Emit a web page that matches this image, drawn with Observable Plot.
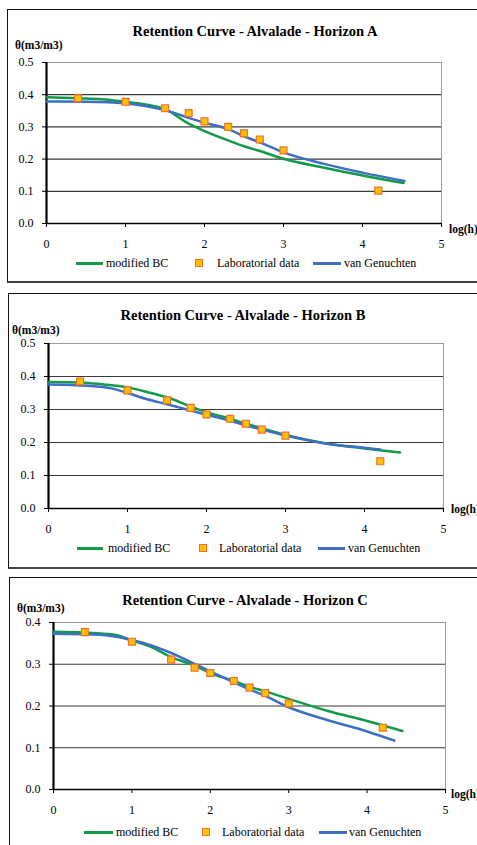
<!DOCTYPE html>
<html>
<head>
<meta charset="utf-8">
<script src="https://cdn.jsdelivr.net/npm/d3@7"></script>
<script src="https://cdn.jsdelivr.net/npm/@observablehq/plot@0.6"></script>
<style>
  html, body { margin: 0; padding: 0; background: #fff; }
  body { width: 477px; height: 845px; position: relative; overflow: hidden; font-family: "Liberation Serif", "Times New Roman", serif; color: #000; }
  svg, svg text { font-family: "Liberation Serif", "Times New Roman", serif !important; }
  .panel { position: absolute; border: 1px solid #111; border-bottom: 2px solid #444; background: #fff; box-sizing: border-box; }
  .abs { position: absolute; white-space: nowrap; }
  .title { font-weight: bold; font-size: 14.5px; text-align: center; width: 400px; line-height: 1; }
  .ylab { font-weight: bold; font-size: 11.5px; line-height: 1; }
  .xlab { font-weight: bold; font-size: 11.5px; line-height: 1; }
  .leg { font-size: 12px; line-height: 1; }
  .sw-line { position: absolute; height: 3px; }
  .sw-sq { position: absolute; width: 6px; height: 6px; background: #ffc000; border: 1px solid #f07030; }
</style>
</head>
<body>
<script>
// ---------- data ----------
const labX = [0.4, 1, 1.5, 1.8, 2, 2.3, 2.5, 2.7, 3, 4.2];
const labA = [0.389, 0.378, 0.358, 0.343, 0.317, 0.300, 0.280, 0.261, 0.227, 0.102];
const labB = [0.385, 0.358, 0.328, 0.305, 0.285, 0.272, 0.257, 0.239, 0.221, 0.143];
const labC = [0.377, 0.354, 0.311, 0.292, 0.279, 0.260, 0.244, 0.231, 0.206, 0.148];

const bcAx = [0, 0.4, 0.7, 1, 1.25, 1.5, 1.8, 2, 2.3, 2.5, 2.7, 3, 3.5, 4, 4.52];
const bcAy = [0.392, 0.389, 0.386, 0.378, 0.370, 0.355, 0.310, 0.287, 0.258, 0.240, 0.225, 0.201, 0.174, 0.149, 0.126];
const vgAx = [0, 0.5, 1, 1.25, 1.5, 1.8, 2, 2.3, 2.5, 2.7, 3, 3.5, 4, 4.53];
const vgAy = [0.379, 0.378, 0.373, 0.365, 0.352, 0.328, 0.313, 0.293, 0.271, 0.252, 0.221, 0.186, 0.158, 0.132];

const bcBx = [0, 0.4, 0.7, 1, 1.25, 1.5, 1.8, 2, 2.3, 2.5, 2.7, 3, 3.5, 4, 4.45];
const bcBy = [0.383, 0.382, 0.376, 0.367, 0.353, 0.337, 0.309, 0.292, 0.272, 0.257, 0.243, 0.223, 0.198, 0.182, 0.170];
const vgBx = [0, 0.5, 0.8, 1, 1.25, 1.5, 1.8, 2, 2.3, 2.5, 2.7, 3, 3.5, 4, 4.2];
const vgBy = [0.376, 0.372, 0.364, 0.350, 0.331, 0.316, 0.297, 0.284, 0.266, 0.252, 0.239, 0.221, 0.197, 0.184, 0.179];

const bcCx = [0, 0.5, 0.8, 1, 1.25, 1.5, 1.8, 2, 2.3, 2.5, 2.7, 3, 3.5, 4, 4.45];
const bcCy = [0.378, 0.375, 0.370, 0.357, 0.341, 0.317, 0.297, 0.279, 0.260, 0.246, 0.235, 0.217, 0.188, 0.164, 0.140];
const vgCx = [0, 0.5, 0.8, 1, 1.25, 1.5, 1.8, 2, 2.3, 2.5, 2.7, 3, 3.5, 4, 4.35];
const vgCy = [0.373, 0.371, 0.366, 0.358, 0.345, 0.327, 0.301, 0.283, 0.257, 0.240, 0.224, 0.197, 0.166, 0.139, 0.117];

const xTicks = [0, 1, 2, 3, 4, 5];
const yTicksAB = [0, 0.1, 0.2, 0.3, 0.4, 0.5];
const yTicksC = [0, 0.1, 0.2, 0.3, 0.4];
const titles = ["Retention Curve - Alvalade - Horizon A", "Retention Curve - Alvalade - Horizon B", "Retention Curve - Alvalade - Horizon C"];
const seriesNames = ["modified BC", "Laboratorial data", "van Genuchten"];
const yLabel = "θ(m3/m3)";
const xLabel = "log(h)";

const GREEN = "#129a48";
const BLUE = "#3e6fc2";

const zip = (xs, ys) => xs.map((x, i) => ({x, y: ys[i]}));

function el(cls, css, text) {
  const d = document.createElement("div");
  d.className = cls;
  Object.assign(d.style, css);
  if (text != null) d.textContent = text;
  document.body.appendChild(d);
  return d;
}

function panel(cfg) {
  const {box, plotL, plotR, plotT, plotB, yMax, yTicks, lab, bc, vg, title, titleY, titleX, ylabX, ylabY, xlabX, xlabY, legY, leg} = cfg;
  el("panel", {left: box[0] + "px", top: box[1] + "px", width: box[2] + "px", height: box[3] + "px"});
  el("abs title", {left: (titleX - 200) + "px", top: (titleY - 7) + "px"}, title);
  el("abs ylab", {left: ylabX + "px", top: (ylabY - 6) + "px"}, yLabel);
  el("abs xlab", {left: xlabX + "px", top: (xlabY - 6) + "px"}, xLabel);

  const mT = 10, mB = 40;
  const svgTop = plotT - mT;
  const H = mT + (plotB - plotT) + mB;
  const chart = Plot.plot({
    width: 477, height: H,
    marginLeft: plotL, marginRight: 477 - plotR, marginTop: mT, marginBottom: mB,
    style: {fontFamily: "Liberation Serif", fontSize: "12px", background: "transparent", color: "#000", overflow: "visible"},
    x: {domain: [0, 5], label: null},
    y: {domain: [0, yMax], label: null},
    marks: [
      Plot.ruleY(yTicks.filter(t => t > 0 && t < yMax), {stroke: "#3a3a3a", strokeWidth: 1.2}),
      Plot.frame({stroke: "#9a9a9a"}),
      Plot.axisX({ticks: xTicks, tickFormat: d => String(d), tickSize: 4, tickPadding: 12, fontSize: 12}),
      Plot.axisY({ticks: yTicks, tickFormat: d3.format(".1f"), tickSize: 4, tickPadding: 9, fontSize: 12}),
      Plot.ruleY([0], {stroke: "#000", strokeWidth: 1.6}),
      Plot.ruleX([0], {stroke: "#000", strokeWidth: 2.2}),
      Plot.line(bc, {x: "x", y: "y", stroke: GREEN, strokeWidth: 2.5, curve: "monotone-x"}),
      Plot.line(vg, {x: "x", y: "y", stroke: BLUE, strokeWidth: 2.5, curve: "monotone-x"}),
      Plot.dot(lab, {x: "x", y: "y", symbol: "square", r: 3.9, fill: "#ffc000", stroke: "#f07030", strokeWidth: 1.2})
    ]
  });
  const wrap = el("abs", {left: "0px", top: svgTop + "px"});
  wrap.appendChild(chart);

  // legend
  const [g0, g1, t0, sq, t1, b0, b1, t2] = leg;
  el("sw-line", {left: g0 + "px", width: (g1 - g0) + "px", top: (legY - 1.5) + "px", background: GREEN});
  el("abs leg", {left: t0 + "px", top: (legY - 6.5) + "px"}, seriesNames[0]);
  el("sw-sq", {left: (sq - 4) + "px", top: (legY - 4) + "px"});
  el("abs leg", {left: t1 + "px", top: (legY - 6.5) + "px"}, seriesNames[1]);
  el("sw-line", {left: b0 + "px", width: (b1 - b0) + "px", top: (legY - 1.5) + "px", background: BLUE});
  el("abs leg", {left: t2 + "px", top: (legY - 6.5) + "px"}, seriesNames[2]);
}

panel({
  box: [7, 9, 480, 274], plotL: 46, plotR: 441, plotT: 62, plotB: 223,
  yMax: 0.5, yTicks: yTicksAB,
  lab: zip(labX, labA), bc: zip(bcAx, bcAy), vg: zip(vgAx, vgAy),
  title: titles[0], titleX: 255, titleY: 31, ylabX: 15, ylabY: 46, xlabX: 449, xlabY: 230,
  legY: 263, leg: [76, 103, 106, 199, 217, 313, 341, 344]
});
panel({
  box: [8, 293, 480, 276], plotL: 48, plotR: 443, plotT: 343, plotB: 508,
  yMax: 0.5, yTicks: yTicksAB,
  lab: zip(labX, labB), bc: zip(bcBx, bcBy), vg: zip(vgBx, vgBy),
  title: titles[1], titleX: 243, titleY: 315, ylabX: 12, ylabY: 331, xlabX: 451, xlabY: 510,
  legY: 548, leg: [77, 103, 108, 203, 219, 318, 345, 348]
});
panel({
  box: [9, 577, 480, 280], plotL: 53, plotR: 445, plotT: 622, plotB: 789,
  yMax: 0.4, yTicks: yTicksC,
  lab: zip(labX, labC), bc: zip(bcCx, bcCy), vg: zip(vgCx, vgCy),
  title: titles[2], titleX: 245, titleY: 600, ylabX: 17, ylabY: 609, xlabX: 451, xlabY: 795,
  legY: 832, leg: [84, 113, 116, 206, 222, 319, 347, 349]
});
</script>
</body>
</html>
